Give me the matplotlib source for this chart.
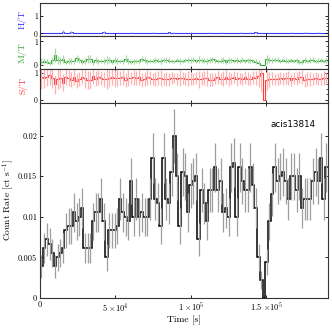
import matplotlib
matplotlib.use("Agg")
import matplotlib.pyplot as plt
import numpy as np

plt.rcParams["font.family"] = ["cmr10", "DejaVu Serif"]
plt.rcParams["mathtext.fontset"] = "cm"
plt.rcParams["axes.unicode_minus"] = False
plt.rcParams["axes.formatter.use_mathtext"] = True

BIN_WIDTH = 1800.0  # s

# total counts per bin
total_counts = [
    7, 11, 13, 12, 10, 7, 9, 10, 11, 15,
    16, 16, 19, 17, 18, 20, 11, 11, 11, 17,
    19, 19, 22, 17, 9, 15, 15, 15, 16, 22,
    19, 18, 17, 26, 18, 22, 18, 19, 18, 18,
    22, 31, 22, 21, 16, 31, 22, 21, 28, 36,
    27, 16, 28, 27, 19, 25, 26, 27, 13, 24,
    21, 17, 24, 24, 29, 24, 26, 19, 20, 18,
    29, 30, 18, 29, 26, 24, 24, 29, 25, 20,
    9, 4, 0, 8, 17, 23, 29, 26, 27, 28,
    26, 22, 27, 27, 24, 27, 20, 22, 22, 22,
    26, 28, 26, 31, 22, 29,
]
medium_counts = [
    1, 2, 2, 1, 2, 3, 2, 2, 3, 2,
    3, 3, 3, 5, 4, 3, 2, 3, 3, 2,
    4, 3, 4, 3, 2, 3, 2, 3, 3, 4,
    3, 5, 3, 4, 3, 4, 3, 5, 4, 3,
    4, 6, 5, 4, 3, 7, 5, 4, 5, 6,
    6, 3, 5, 6, 4, 5, 6, 5, 3, 5,
    4, 3, 5, 6, 6, 4, 5, 4, 3, 4,
    6, 5, 4, 5, 6, 4, 5, 6, 4, 3,
    1, 0, 0, 2, 4, 5, 7, 6, 5, 6,
    5, 4, 6, 5, 5, 4, 3, 5, 4, 5,
    6, 5, 5, 7, 4, 6,
]
hard_bins = [8, 11, 23, 33, 41, 47, 49, 55, 62, 66, 73, 77, 79, 92, 97, 98, 102]

obs_label = "acis13814"
rate_ticks = [0, 0.005, 0.01, 0.015, 0.02]
rate_ticklabels = ["0", "0.005", "0.01", "0.015", "0.02"]
time_ticks = [0, 5e4, 1e5, 1.5e5]
time_ticklabels = ["0", r"$5\ {\times}10^{4}$", r"$1\ {\times}10^{5}$", r"$1.5\ {\times}10^{5}$"]

n = np.array(total_counts, dtype=float)
m = np.array(medium_counts, dtype=float)
h = np.zeros_like(n)
h[hard_bins] = 1
s = n - m - h

edges = np.arange(len(n) + 1) * BIN_WIDTH
centres = 0.5 * (edges[:-1] + edges[1:])
rate = n / BIN_WIDTH
rate_err = np.sqrt(n) / BIN_WIDTH


def ratio(part):
    frac = np.divide(part, n, out=np.zeros_like(n), where=n > 0)
    err = np.zeros_like(n)
    ok = (part > 0) & (n > 0)
    err[ok] = frac[ok] * np.sqrt(1 / part[ok] + 1 / n[ok])
    return frac, err


def style(ax):
    for sp in ax.spines.values():
        sp.set_color("0.2")
        sp.set_linewidth(0.8)
    ax.tick_params(direction="in", top=True, right=True, labelsize=6,
                   length=2.5, width=0.6, pad=2)
    ax.set_xlim(0, 1.91e5)
    ax.set_xticks(time_ticks)


fig = plt.figure(figsize=(3.32, 3.32), dpi=100)
left, width = 0.1205, 0.8675

panels = [
    ("H/T", h, "#3a3aff", "#9a9aff", (-0.15, 1.7), 0.8916, 0.0985),
    ("M/T", m, "#35a835", "#a8d8a8", (-0.17, 1.23), 0.7913, 0.1003),
    ("S/T", s, "#ff3a3a", "#ffb0b0", (-0.12, 1.14), 0.6907, 0.1006),
]
for name, part, color, ecolor, ylim, bottom, height in panels:
    ax = fig.add_axes([left, bottom, width, height])
    frac, err = ratio(part)
    ax.errorbar(centres, frac, yerr=err, fmt="none", ecolor=ecolor, elinewidth=0.9)
    ax.stairs(frac, edges, color=color, linewidth=0.8, baseline=None)
    style(ax)
    ax.set_ylim(*ylim)
    ax.set_yticks([0, 1])
    ax.set_yticklabels(["0", "1"])
    ax.tick_params(axis="y", labelsize=5.5, pad=1.5)
    ax.set_yticks(np.arange(0, 1.01, 0.2), minor=True)
    ax.tick_params(which="minor", direction="in", left=False, right=True,
                   length=1.5, width=0.5)
    ax.set_xticklabels([])
    ax.set_ylabel(name, color=color, fontsize=7)
    ax.yaxis.set_label_coords(-0.045, 0.5)

ax = fig.add_axes([left, 0.1024, width, 0.588])
ax.errorbar(centres, rate, yerr=rate_err, fmt="none", ecolor="0.62", elinewidth=0.9)
ax.stairs(rate, edges, color="black", linewidth=1.1, baseline=None)
style(ax)
ax.set_ylim(0, 0.02405)
ax.set_yticks(rate_ticks)
ax.set_yticklabels(rate_ticklabels)
ax.set_xticklabels(time_ticklabels)
ax.set_xlabel("Time [s]", fontsize=7, labelpad=1)
ax.set_ylabel(r"Count Rate [ct s$^{-1}$]", fontsize=6.8)
ax.yaxis.set_label_coords(-0.083, 0.5)
ax.text(0.88, 0.89, obs_label, transform=ax.transAxes, ha="center", va="center",
        fontsize=6.3, family="DejaVu Sans")

fig.savefig("out.png", dpi=100)
